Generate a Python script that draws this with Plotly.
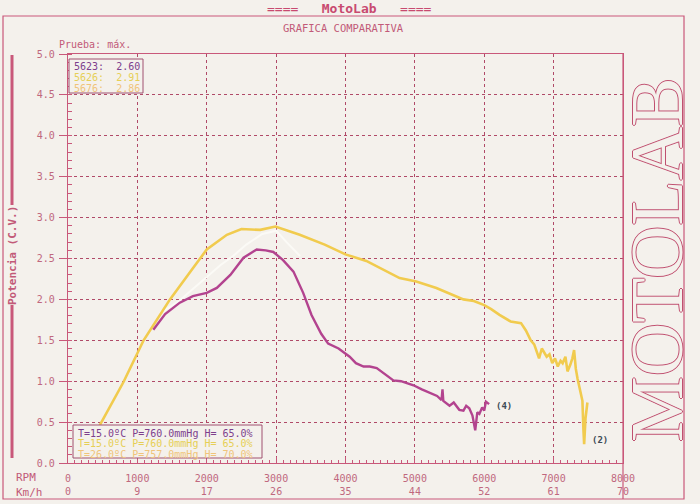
import plotly.graph_objects as go

# ---------------- data ----------------
rpm_5626 = [457, 800, 1090, 1470, 1800, 2000, 2290, 2500, 2770, 2990, 3340, 3700, 4000, 4300,
            4780, 5020, 5310, 5500, 5700, 5850, 6000, 6100, 6220, 6380, 6530, 6600, 6670, 6720,
            6790, 6830, 6860, 6900, 6940, 6980, 7020, 7060, 7100, 7130, 7170, 7200, 7240, 7270,
            7295, 7320, 7345, 7380, 7415, 7430, 7440, 7460, 7487]
pot_5626 = [0.46, 0.99, 1.50, 2.00, 2.38, 2.61, 2.79, 2.86, 2.85, 2.89, 2.79, 2.67, 2.55, 2.47,
            2.26, 2.22, 2.14, 2.07, 2.00, 1.98, 1.93, 1.88, 1.81, 1.73, 1.71, 1.62, 1.50, 1.45,
            1.28, 1.40, 1.36, 1.30, 1.33, 1.22, 1.28, 1.18, 1.25, 1.22, 1.30, 1.12, 1.20, 1.28,
            1.38, 1.15, 1.03, 0.90, 0.76, 0.40, 0.23, 0.55, 0.74]

rpm_5623 = [1230, 1400, 1612, 1800, 2000, 2145, 2340, 2530, 2720, 2850, 2960, 3100, 3250, 3390,
            3510, 3650, 3750, 3900, 4060, 4150, 4260, 4350, 4450, 4550, 4690, 4800, 4980, 5100,
            5240, 5320, 5384, 5398, 5410, 5500, 5560, 5640, 5700, 5740, 5784, 5830, 5870, 5900,
            5930, 5970, 6000, 6024, 6070]
pot_5623 = [1.63, 1.82, 1.96, 2.04, 2.08, 2.14, 2.30, 2.51, 2.61, 2.60, 2.58, 2.48, 2.34, 2.08,
            1.81, 1.58, 1.46, 1.40, 1.30, 1.22, 1.18, 1.18, 1.16, 1.10, 1.01, 1.00, 0.95, 0.90,
            0.85, 0.82, 0.77, 0.90, 0.76, 0.70, 0.74, 0.65, 0.64, 0.70, 0.67, 0.58, 0.40, 0.62,
            0.60, 0.68, 0.64, 0.75, 0.72]

rpm_5676 = [1325, 1600, 1900, 2200, 2380, 2570, 2800, 3000, 3150, 3345]
pot_5676 = [1.83, 1.98, 2.20, 2.42, 2.53, 2.67, 2.80, 2.84, 2.70, 2.53]

rpm_ticks = [0, 1000, 2000, 3000, 4000, 5000, 6000, 7000, 8000]
kmh_ticks = [0, 9, 17, 26, 35, 44, 52, 61, 70]
pot_ticks = [0.0, 0.5, 1.0, 1.5, 2.0, 2.5, 3.0, 3.5, 4.0, 4.5, 5.0]

legend_ids = ["5623", "5626", "5676"]
legend_max = ["2.60", "2.91", "2.86"]
cond_lines = ["T=15.0ºC P=760.0mmHg H= 65.0%",
              "T=15.0ºC P=760.0mmHg H= 65.0%",
              "T=26.0ºC P=757.0mmHg H= 70.0%"]

# ---------------- style ----------------
W, H = 700, 504
L, R, T, B = 68, 77, 54, 41
PW, PH = W - L - R, H - T - B
BG = "#f4f1ec"
PINK = "#c9587a"
TXT = "#c25a78"
GRID = "#b04a68"
C_PURPLE = "#b3438f"
C_YELLOW = "#f1cb4e"
C_FAINT = "#fbfaf6"
LEG_COLORS = ["#7d3f8c", "#e6cf55", "#f0c47a"]
MONO = "DejaVu Sans Mono"


def px(x):
    return (x - L) / PW


def py(y):
    return 1 - (y - T) / PH


fig = go.Figure()
fig.add_trace(go.Scatter(x=rpm_5676, y=pot_5676, mode="lines",
                         line=dict(color=C_FAINT, width=2), hoverinfo="skip"))
fig.add_trace(go.Scatter(x=rpm_5626, y=pot_5626, mode="lines",
                         line=dict(color=C_YELLOW, width=2.6)))
fig.add_trace(go.Scatter(x=rpm_5623, y=pot_5623, mode="lines",
                         line=dict(color=C_PURPLE, width=2.4)))

shapes = []
shapes.append(dict(type="rect", xref="paper", yref="paper", x0=px(3), x1=px(684), y0=py(499), y1=py(16),
                   line=dict(color=PINK, width=1.2)))
shapes.append(dict(type="line", xref="paper", yref="paper", x0=px(623), x1=px(623), y0=py(499), y1=py(54),
                   line=dict(color=PINK, width=1.2)))
shapes.append(dict(type="line", xref="paper", yref="paper", x0=px(12), x1=px(12), y0=py(205), y1=py(55),
                   line=dict(color=PINK, width=3)))
shapes.append(dict(type="line", xref="paper", yref="paper", x0=px(12), x1=px(12), y0=py(458), y1=py(305),
                   line=dict(color=PINK, width=3)))
shapes.append(dict(type="rect", xref="paper", yref="paper", x0=px(69), x1=px(143), y0=py(93), y1=py(59),
                   line=dict(color="#a05070", width=1), fillcolor=BG))
shapes.append(dict(type="rect", xref="paper", yref="paper", x0=px(73), x1=px(262), y0=py(458), y1=py(425),
                   line=dict(color="#a05070", width=1), fillcolor=BG))


def note(text, x, y, size=10, color=TXT, xanchor="center", family=MONO, **kw):
    return dict(text=text, x=px(x), y=py(y), xref="paper", yref="paper", xanchor=xanchor,
                yanchor="middle", showarrow=False, font=dict(family=family, size=size, color=color), **kw)


ann = []
ann.append(note("====&nbsp;&nbsp;&nbsp;<b>MotoLab</b>&nbsp;&nbsp;&nbsp;====", 349, 8, size=13, color="#c84a70"))
ann.append(note("GRAFICA COMPARATIVA", 343, 28, size=10.5))
ann.append(note("Prueba: máx.", 57, 44, xanchor="left"))
ann.append(note("<b>Potencia (C.V.)</b>", 13, 256, size=11, textangle=-90))
ann.append(note("RPM", 14, 478, size=11, xanchor="left"))
ann.append(note("Km/h", 14, 492, size=11, xanchor="left"))
for i, (lid, mx) in enumerate(zip(legend_ids, legend_max)):
    ann.append(note(f"{lid}:&nbsp;&nbsp;{mx}", 72, 66 + 11 * i, color=LEG_COLORS[i], xanchor="left"))
for i, line in enumerate(cond_lines):
    ann.append(note(line, 76, 433 + 10.5 * i, color=LEG_COLORS[i], xanchor="left"))
ann.append(dict(text="<b>(4)</b>", x=rpm_5623[-1] + 70, y=pot_5623[-1] - 0.02, xanchor="left",
                yanchor="middle", showarrow=False, font=dict(family=MONO, size=9, color="#3c4a55")))
ann.append(dict(text="<b>(2)</b>", x=rpm_5626[-1] + 40, y=0.28, xanchor="left",
                yanchor="middle", showarrow=False, font=dict(family=MONO, size=9, color="#3c4a55")))
ann.append(note("MOTOLAB", 657, 260, size=74, color=BG, family="Liberation Serif", textangle=-90))
ann[-1]["font"]["shadow"] = "1px 0 0 #c05070, -1px 0 0 #c05070, 0 1px 0 #c05070, 0 -1px 0 #c05070"

fig.update_layout(
    width=W, height=H, margin=dict(l=L, r=R, t=T, b=B, autoexpand=False),
    paper_bgcolor=BG, plot_bgcolor=BG, showlegend=False,
    shapes=shapes, annotations=ann,
    xaxis=dict(range=[0, 8000], tickvals=rpm_ticks, automargin=False,
               ticktext=[f"{r}<br>{k}" for r, k in zip(rpm_ticks, kmh_ticks)],
               showgrid=True, gridcolor=GRID, griddash="dot", gridwidth=1,
               showline=True, linecolor=PINK, linewidth=1.2, mirror=True,
               ticks="inside", ticklen=6, tickcolor=PINK, ticklabelstandoff=6,
               minor=dict(dtick=100, ticks="inside", ticklen=3, tickcolor=PINK, showgrid=False),
               tickfont=dict(family=MONO, size=10, color="#c0687e"), zeroline=False),
    yaxis=dict(range=[0, 5], tickvals=pot_ticks, tickformat=".1f", automargin=False,
               showgrid=True, gridcolor=GRID, griddash="dot", gridwidth=1,
               showline=True, linecolor=PINK, linewidth=1.2, mirror=True,
               ticks="outside", ticklen=8, tickcolor=PINK, ticklabelstandoff=2,
               minor=dict(dtick=0.1, ticks="inside", ticklen=4, tickcolor=PINK, showgrid=False),
               tickfont=dict(family=MONO, size=10, color="#c0687e"), zeroline=False),
)
fig.write_html("out.html")
